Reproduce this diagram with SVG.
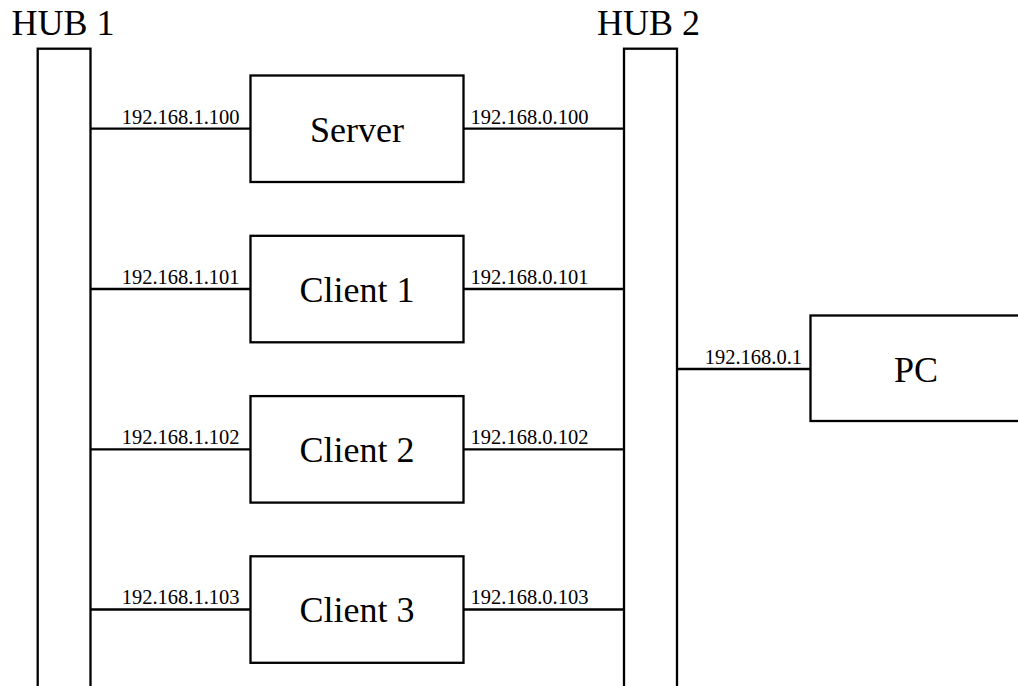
<svg xmlns="http://www.w3.org/2000/svg" width="1018" height="686" viewBox="0 0 1018 686">
<style>
.box{fill:#fff;stroke:#000;stroke-width:2.3}
.ln{stroke:#000;stroke-width:2.3;fill:none}
.big{font-family:'Liberation Serif','DejaVu Serif',serif;font-size:36px;fill:#000}
.ip{font-family:'Liberation Serif','DejaVu Serif',serif;font-size:20.5px;fill:#000}
.c{text-anchor:middle}
.e{text-anchor:end}
</style>
<rect width="1018" height="686" fill="#fff"/>
<g id="connectors">
<line class="ln" x1="90.5" y1="128.7" x2="250.5" y2="128.7"/>
<line class="ln" x1="463.5" y1="128.7" x2="624" y2="128.7"/>
<line class="ln" x1="90.5" y1="289" x2="250.5" y2="289"/>
<line class="ln" x1="463.5" y1="289" x2="624" y2="289"/>
<line class="ln" x1="90.5" y1="449.3" x2="250.5" y2="449.3"/>
<line class="ln" x1="463.5" y1="449.3" x2="624" y2="449.3"/>
<line class="ln" x1="90.5" y1="609.5" x2="250.5" y2="609.5"/>
<line class="ln" x1="463.5" y1="609.5" x2="624" y2="609.5"/>
<line class="ln" x1="677" y1="369" x2="810.5" y2="369"/>
<text class="ip e" x="239.5" y="123.5">192.168.1.100</text>
<text class="ip" x="470.5" y="123.5">192.168.0.100</text>
<text class="ip e" x="239.5" y="283.8">192.168.1.101</text>
<text class="ip" x="470.5" y="283.8">192.168.0.101</text>
<text class="ip e" x="239.5" y="444.1">192.168.1.102</text>
<text class="ip" x="470.5" y="444.1">192.168.0.102</text>
<text class="ip e" x="239.5" y="604.3">192.168.1.103</text>
<text class="ip" x="470.5" y="604.3">192.168.0.103</text>
<text class="ip e" x="802" y="364">192.168.0.1</text>
</g>
<g id="hub1">
<rect class="box" x="37.7" y="48.7" width="52.8" height="700"/>
<text class="big" x="11.5" y="35">HUB 1</text>
</g>
<g id="hub2">
<rect class="box" x="624" y="48.7" width="53" height="700"/>
<text class="big" x="597" y="35">HUB 2</text>
</g>
<g id="server">
<rect class="box" x="250.5" y="75.5" width="213" height="106.5"/>
<text class="big c" x="357" y="141.7">Server</text>
</g>
<g id="client1">
<rect class="box" x="250.5" y="235.8" width="213" height="106.5"/>
<text class="big c" x="357" y="301.8">Client 1</text>
</g>
<g id="client2">
<rect class="box" x="250.5" y="396.1" width="213" height="106.5"/>
<text class="big c" x="357" y="462.1">Client 2</text>
</g>
<g id="client3">
<rect class="box" x="250.5" y="556.3" width="213" height="106.5"/>
<text class="big c" x="357" y="622.3">Client 3</text>
</g>
<g id="pc">
<rect class="box" x="810.5" y="315.5" width="211" height="105.5"/>
<text class="big c" x="916" y="381.7">PC</text>
</g>
</svg>
